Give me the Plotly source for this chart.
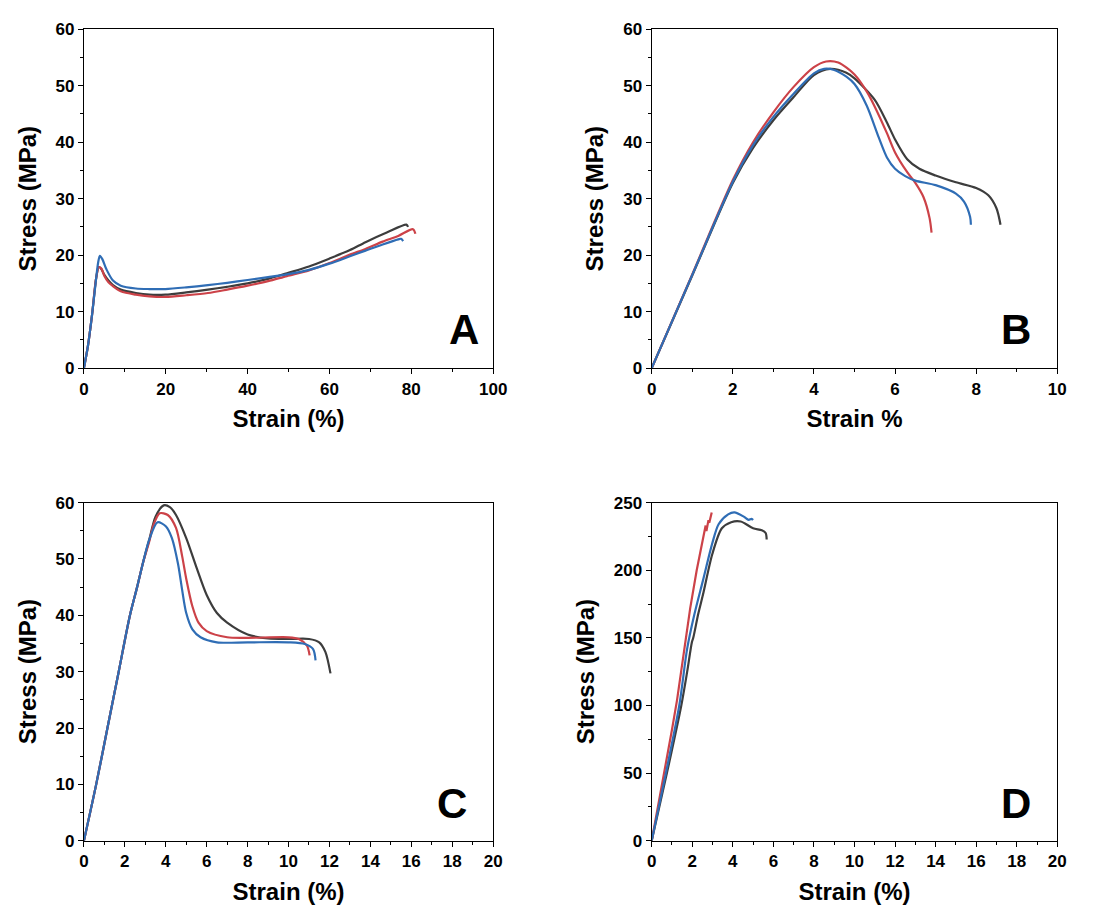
import plotly.graph_objects as go

# ---------------- data ----------------
# Panel A
a_black_x = [0, 1, 2, 3, 3.6, 4.2, 5, 6, 7.1, 9, 12.7, 16, 19.9, 25, 30.3, 35, 40, 45, 49.6, 55, 60, 65, 68.8, 74, 78.8, 79.2]
a_black_y = [0, 4, 9.5, 16, 17.9, 17.6, 16.5, 15.5, 14.7, 13.9, 13.3, 13.0, 13.0, 13.4, 13.9, 14.4, 15.0, 15.8, 16.8, 18.0, 19.4, 20.9, 22.3, 24.0, 25.4, 25.0]
a_red_x = [0, 1, 2, 3, 3.7, 4.3, 5, 6, 7.1, 9, 12.7, 16, 19.9, 25, 30.3, 35, 40, 45, 49.6, 55, 60, 65, 68.8, 73, 76.8, 80.4, 81]
a_red_y = [0, 4, 9.5, 16, 17.9, 17.6, 16.3, 15.2, 14.5, 13.6, 13.0, 12.7, 12.6, 12.9, 13.3, 13.9, 14.6, 15.4, 16.3, 17.3, 18.6, 20.1, 21.1, 22.4, 23.4, 24.6, 23.8]
a_blue_x = [0, 1, 2, 3, 3.5, 3.9, 4.5, 5.5, 7.1, 9, 12.7, 16, 19.9, 25, 30.3, 35, 40, 45, 49.6, 55, 60, 65, 68.8, 73, 76.8, 77.5, 78]
a_blue_y = [0, 4, 9.5, 16, 18.8, 19.9, 19.3, 17.5, 15.5, 14.6, 14.1, 14.0, 14.0, 14.3, 14.7, 15.1, 15.6, 16.1, 16.6, 17.4, 18.5, 19.8, 20.8, 21.9, 22.8, 22.9, 22.5]

# Panel B
b_black_x = [0, 1, 2, 2.5, 3, 3.5, 4, 4.4, 4.8, 5, 5.5, 5.8, 6, 6.3, 6.6, 7, 7.5, 8, 8.3, 8.5, 8.6]
b_black_y = [0, 16.4, 32.8, 39, 43.9, 48, 51.9, 53.0, 52.3, 51.3, 47.5, 43.5, 40.5, 37, 35.3, 34.1, 32.9, 31.9, 30.6, 28.3, 25.4]
b_red_x = [0, 1, 2, 2.5, 3, 3.5, 4, 4.3, 4.6, 5, 5.3, 5.5, 5.8, 6, 6.3, 6.5, 6.7, 6.85, 6.9]
b_red_y = [0, 16.6, 33.3, 40, 45.3, 49.8, 53.3, 54.3, 54.1, 52, 49, 46.3, 41.6, 38.2, 34.7, 32.8, 30.3, 26.6, 24.0]
b_blue_x = [0, 1, 2, 2.5, 3, 3.5, 4, 4.25, 4.5, 4.8, 5, 5.3, 5.6, 5.8, 6, 6.25, 6.5, 7, 7.5, 7.7, 7.85, 7.87]
b_blue_y = [0, 16.5, 33, 39.5, 44.5, 48.6, 52.2, 53.0, 52.8, 51.6, 50.3, 46.5, 40.8, 37.3, 35.3, 34, 33.2, 32.4, 30.9, 29.5, 26.8, 25.4]

# Panel C
c_black_x = [0, 0.6, 1.15, 1.7, 2.25, 2.6, 2.9, 3.2, 3.5, 3.9, 4.2, 4.5, 5, 5.5, 6, 6.5, 7, 8, 9, 10, 11, 11.5, 11.8, 12.05]
c_black_y = [0, 10, 20, 30, 40, 45, 49.5, 53.5, 57.5, 59.5, 59.2, 57.8, 53.7, 48.5, 43.6, 40.4, 38.7, 36.6, 35.9, 35.8, 35.8, 35.2, 33.5, 29.7]
c_red_x = [0, 0.6, 1.15, 1.7, 2.25, 2.6, 2.9, 3.2, 3.4, 3.7, 4.1, 4.5, 4.8, 5, 5.3, 5.6, 6, 7, 8, 10, 10.5, 10.9, 11.03]
c_red_y = [0, 10, 20, 30, 40, 45, 49.5, 53.2, 56, 58.1, 57.8, 55.5, 50.5, 46.5, 41.6, 38.7, 37.2, 36.1, 36.0, 36.1, 35.8, 34.6, 32.9]
c_blue_x = [0, 0.6, 1.15, 1.7, 2.25, 2.6, 2.9, 3.2, 3.6, 4.0, 4.3, 4.6, 4.8, 5, 5.3, 5.7, 6.5, 8, 10, 10.8, 11.2, 11.32]
c_blue_y = [0, 10, 20, 30, 40, 45, 49.5, 53.5, 56.5, 55.8, 53.7, 49.1, 44.5, 40.4, 37.5, 36.1, 35.2, 35.2, 35.2, 34.9, 34.0, 32.0]

# Panel D
d_black_x = [0, 0.75, 1.46, 1.75, 1.98, 2.05, 2.3, 2.53, 2.99, 3.46, 3.92, 4.39, 5.0, 5.43, 5.62, 5.67]
d_black_y = [0, 50, 100, 125, 146.6, 150, 168, 182, 212, 231, 235.5, 236, 231, 229.5, 227.5, 222.7]
d_red_x = [0, 0.6, 1.0, 1.25, 1.6, 1.9, 2.22, 2.45, 2.62, 2.66, 2.7, 2.8, 2.84, 2.96]
d_red_y = [0, 48, 82, 104, 142, 172, 200, 218, 230, 233, 229, 237, 235, 242.7]
d_blue_x = [0, 0.7, 1.36, 1.75, 2.1, 2.53, 2.99, 3.3, 3.77, 4.08, 4.54, 4.78, 4.93, 5.0]
d_blue_y = [0, 50, 100, 142, 167, 192.5, 220, 234, 241.3, 242.8, 239.6, 237.2, 238, 237.2]

panel_letters = ["A", "B", "C", "D"]
x_titles = ["Strain (%)", "Strain %", "Strain (%)", "Strain (%)"]
y_title = "Stress (MPa)"

BLACK = "#3d3d3d"
RED = "#cc4248"
BLUE = "#2f6db5"
FONT = "Liberation Sans"

fig = go.Figure()

panels = [
    [(a_black_x, a_black_y, BLACK), (a_red_x, a_red_y, RED), (a_blue_x, a_blue_y, BLUE)],
    [(b_black_x, b_black_y, BLACK), (b_red_x, b_red_y, RED), (b_blue_x, b_blue_y, BLUE)],
    [(c_black_x, c_black_y, BLACK), (c_red_x, c_red_y, RED), (c_blue_x, c_blue_y, BLUE)],
    [(d_black_x, d_black_y, BLACK), (d_red_x, d_red_y, RED), (d_blue_x, d_blue_y, BLUE)],
]

for i, curves in enumerate(panels):
    sfx = "" if i == 0 else str(i + 1)
    for (xs, ys, col) in curves:
        shape = "linear" if (i == 3 and col == RED) else "spline"
        fig.add_trace(go.Scatter(
            x=xs, y=ys, mode="lines",
            line=dict(color=col, width=2.2, shape=shape, smoothing=0.8),
            xaxis="x" + sfx, yaxis="y" + sfx, showlegend=False, hoverinfo="skip"))

W, H = 1105, 919
left_x = [80.3 / W, 496.7 / W]
right_x = [658 / W, 1070.7 / W]
top_y = [1 - 366.7 / H, 1 - 20.7 / H]
bot_y = [1 - 849.3 / H, 1 - 504 / H]

specs = [
    dict(xd=left_x, yd=top_y, xr=[0, 100], xdt=20, xm=10, yr=[0, 60], ydt=10, ym=5),
    dict(xd=right_x, yd=top_y, xr=[0, 10], xdt=2, xm=1, yr=[0, 60], ydt=10, ym=5),
    dict(xd=left_x, yd=bot_y, xr=[0, 20], xdt=2, xm=1, yr=[0, 60], ydt=10, ym=5),
    dict(xd=right_x, yd=bot_y, xr=[0, 20], xdt=2, xm=1, yr=[0, 250], ydt=50, ym=25),
]

common = dict(showline=True, linecolor="black", linewidth=1.2, mirror=True,
              ticks="outside", ticklen=5, tickwidth=1.2, tickcolor="black",
              showgrid=False, zeroline=False,
              tickfont=dict(family=FONT, size=17, color="black", weight="bold"))

layout = dict(width=W, height=H, margin=dict(l=0, r=0, t=0, b=0),
              paper_bgcolor="white", plot_bgcolor="white", showlegend=False)

annotations = []
letter_pos = [(0.929, 0.115), (0.898, 0.115), (0.90, 0.111), (0.898, 0.111)]
for i, s in enumerate(specs):
    sfx = "" if i == 0 else str(i + 1)
    layout["xaxis" + sfx] = dict(
        domain=s["xd"], range=s["xr"], dtick=s["xdt"], tick0=0,
        anchor="y" + sfx,
        minor=dict(dtick=s["xm"], ticks="outside", ticklen=3, tickwidth=1.2, tickcolor="black", showgrid=False),
        title=dict(text=x_titles[i], font=dict(family=FONT, size=24, color="black", weight="bold"), standoff=12),
        **common)
    layout["yaxis" + sfx] = dict(
        domain=s["yd"], range=s["yr"], dtick=s["ydt"], tick0=0,
        anchor="x" + sfx,
        minor=dict(dtick=s["ym"], ticks="outside", ticklen=3, tickwidth=1.2, tickcolor="black", showgrid=False),
        title=dict(text=y_title, font=dict(family=FONT, size=24, color="black", weight="bold"), standoff=12),
        **common)
    lx, ly = letter_pos[i]
    annotations.append(dict(
        text=panel_letters[i], xref="x" + sfx + " domain", yref="y" + sfx + " domain",
        x=lx, y=ly, xanchor="center", yanchor="middle", showarrow=False,
        font=dict(family=FONT, size=42, color="black", weight="bold")))

layout["annotations"] = annotations
fig.update_layout(**layout)
fig.write_html("out.html")
